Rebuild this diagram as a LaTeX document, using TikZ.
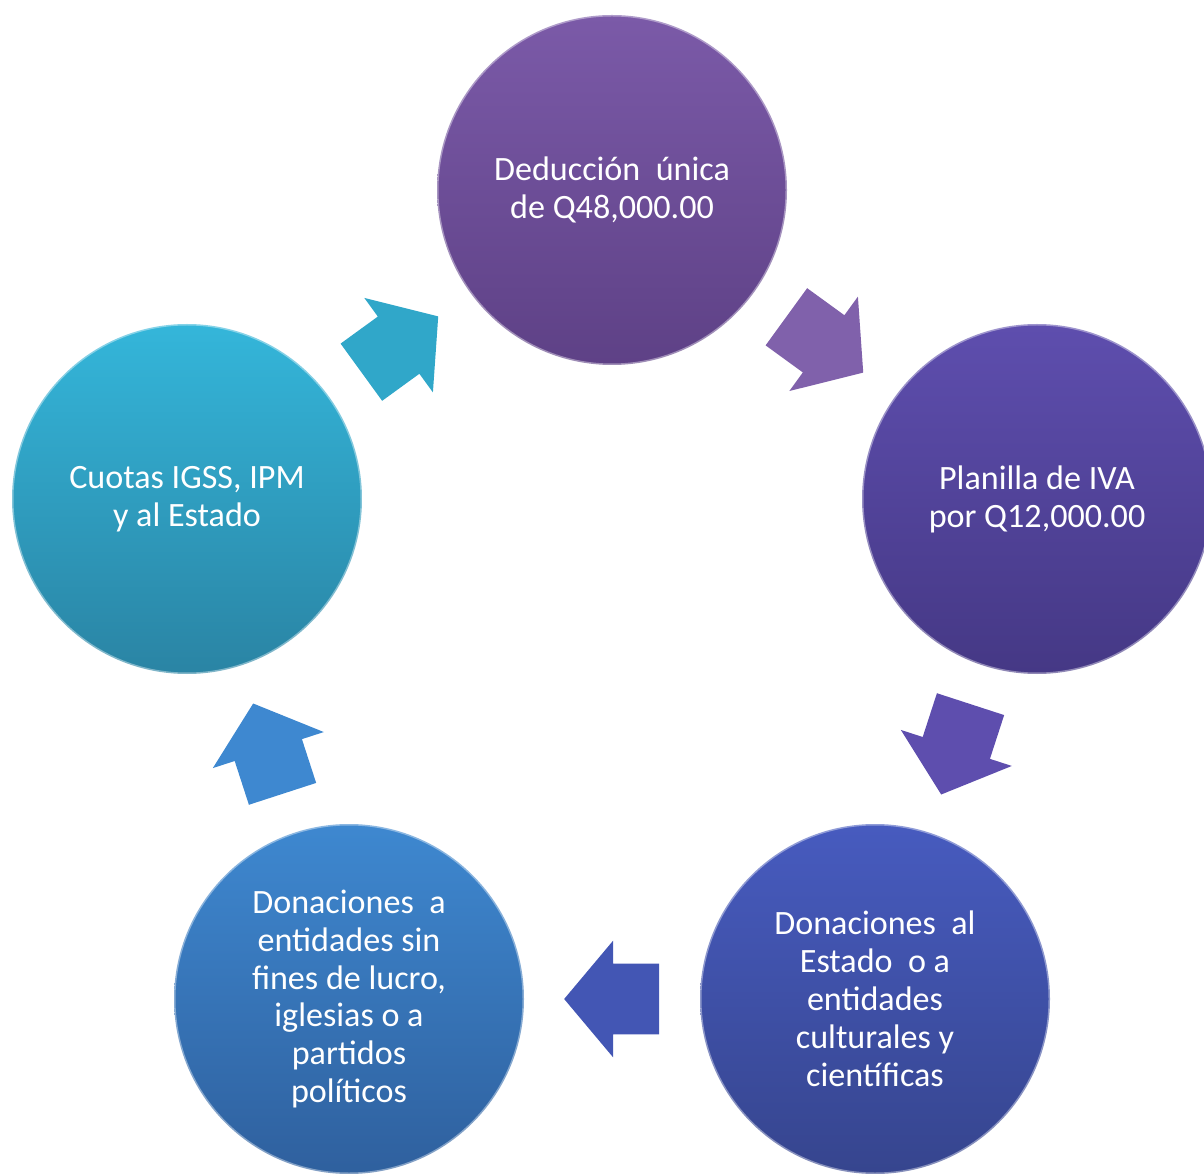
\documentclass[tikz,border=0pt]{standalone}
\usepackage{fontspec}
\setmainfont{Carlito}
\usetikzlibrary{positioning,calc,shapes.arrows}

\definecolor{deducTop}{HTML}{7B5AA8}
\definecolor{deducBot}{HTML}{5E4186}
\definecolor{planTop}{HTML}{5E4EAE}
\definecolor{planBot}{HTML}{453885}
\definecolor{estTop}{HTML}{475BBF}
\definecolor{estBot}{HTML}{36458E}
\definecolor{lucroTop}{HTML}{3E88D0}
\definecolor{lucroBot}{HTML}{2F609E}
\definecolor{cuotaTop}{HTML}{34B6DA}
\definecolor{cuotaBot}{HTML}{2A84A4}

\tikzset{
  ciclo/.style={circle, minimum size=7cm, inner sep=0pt, align=center,
    text=white, font=\fontsize{19.4pt}{21.6pt}\selectfont,
    draw=white, draw opacity=0.4, line width=0.06cm},
  flecha/.style={single arrow, anchor=tail, minimum height=1.9cm,
    text height=0.7cm, text depth=0.7cm, text width=0pt,
    single arrow head extend=0.46cm, single arrow tip angle=100,
    inner sep=0pt, draw=none}
}

\begin{document}
\begin{tikzpicture}
    \useasboundingbox (0,0) rectangle (24.08,23.46);

    % circulos del ciclo
    \node[ciclo, top color=deducTop, bottom color=deducBot] (deduccion)
        at (12.24,19.66) {Deducción~ única\\de Q48,000.00};
    \node[ciclo, top color=planTop, bottom color=planBot] (planilla)
        at (20.74,13.48) {Planilla de IVA\\por Q12,000.00};
    \node[ciclo, top color=estTop, bottom color=estBot] (donestado)
        at (17.50,3.48) {Donaciones~ al\\Estado~ o a\\entidades\\culturales y\\científicas};
    \node[ciclo, top color=lucroTop, bottom color=lucroBot] (donlucro)
        at (6.98,3.48) {Donaciones~ a\\entidades sin\\fines de lucro,\\iglesias o a\\partidos\\políticos};
    \node[ciclo, top color=cuotaTop, bottom color=cuotaBot] (cuotas)
        at (3.74,13.48) {Cuotas IGSS, IPM\\y al Estado};

    % flechas entre circulos
    \node[flecha, fill=deducTop!96!white, rotate=-36] (fdp)
        at ($($(deduccion)!0.5!(planilla)$)!0.95cm!(deduccion)$) {};
    \node[flecha, fill=planTop, rotate=-108] (fpe)
        at ($($(planilla)!0.5!(donestado)$)!0.95cm!(planilla)$) {};
    \node[flecha, fill=estTop!94!black, rotate=180] (fel)
        at ($($(donestado)!0.5!(donlucro)$)!0.95cm!(donestado)$) {};
    \node[flecha, fill=lucroTop, rotate=108] (flc)
        at ($($(donlucro)!0.5!(cuotas)$)!0.95cm!(donlucro)$) {};
    \node[flecha, fill=cuotaTop!92!black, rotate=36] (fcd)
        at ($($(cuotas)!0.5!(deduccion)$)!0.95cm!(cuotas)$) {};
\end{tikzpicture}
\end{document}
